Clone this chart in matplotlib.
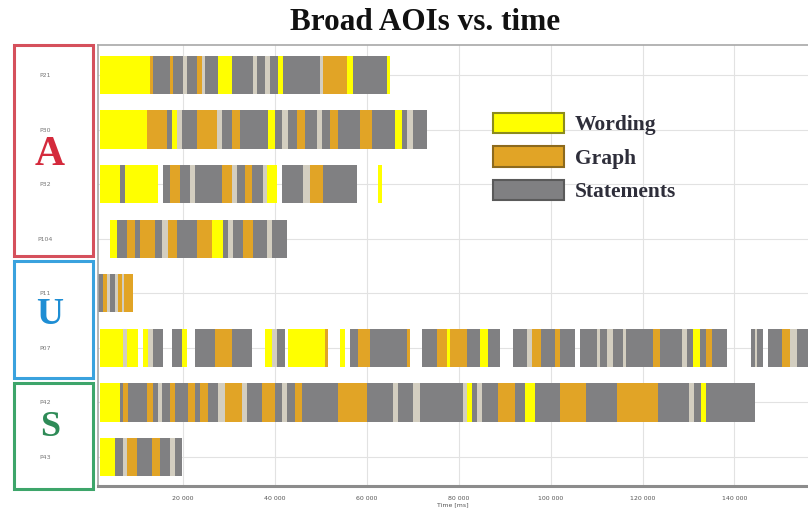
import matplotlib.pyplot as plt
from matplotlib.patches import Patch, Rectangle

participants = ["P21", "P30", "P32", "P104", "P11", "P07", "P42", "P43"]

# segment boundaries in ms, AOI code per segment
# W = Wording, G = Graph, S = Statements, o = short fixation outside AOIs, - = no data
p21_edges = [2000, 12800, 13500, 17200, 17800, 20000, 20900, 23000, 24100, 24800,
             27600, 30700, 35200, 36100, 37800, 38900, 40700, 41700, 49800, 50400,
             55700, 57000, 64400, 65000]
p21_aois = "WGSGSoSGoSWSoSoSWSoGWSW"

p30_edges = [2000, 12200, 16500, 17600, 18700, 19800, 23000, 27400, 28500, 30700,
             32400, 38500, 40000, 41500, 42800, 44800, 46500, 49100, 50200, 52000,
             53700, 58500, 61100, 66100, 67600, 68700, 70000, 73000]
p30_aois = "WGSWoSGoSGSWSoSGSoSGSGSWSoS"

p32_edges = [2000, 6300, 7400, 14600, 15700, 17200, 19300, 21500, 22600, 28500,
             30700, 31700, 33500, 35000, 37400, 38300, 40400, 41500, 46100, 47600,
             50400, 57800, 62400, 63300]
p32_aois = "WSW-SGSoSGoSGSoW-SoGS-W"

p104_edges = [4100, 5700, 7800, 9600, 10700, 13900, 15400, 16700, 18700, 23000,
              26300, 28700, 29800, 30900, 33000, 35200, 38300, 39300, 42600]
p104_aois = "WSGSGSoGSGWSoSGSoS"

p11_edges = [1500, 2600, 3500, 4100, 5200, 5900, 6700, 7200, 9100]
p11_aois = "SGoSoGoG"

p07_edges = [2000, 7000, 7800, 10200, 11300, 12400, 13500, 15700, 17600, 19800,
             20900, 22600, 27000, 30700, 35000, 37800, 39300, 40400, 42200, 42800,
             50900, 51500, 54100, 55200, 56300, 58000, 60700, 68700, 69300, 72000,
             75200, 77400, 78000, 81700, 84600, 86300, 88900, 91700, 94800, 95900,
             98000, 100900, 102000, 105200, 106300, 110000, 110700, 112200, 113500, 115700,
             116500, 122200, 123700, 128500, 129600, 130900, 132400, 133900, 135200, 138300,
             143700, 144400, 145000, 146100, 147200, 150400, 152000, 153500, 158000]
p07_aois = "WoW-WoS-SW-SGS-WoS-WG-W-SGSG-SGWGSWS-SoGSGS-SoSoSoSGSoSWSGS-SoS-SGoS"

p42_edges = [2000, 6300, 7000, 8000, 12200, 13500, 14600, 15400, 17200, 18300,
             21100, 22600, 23700, 25400, 27600, 29100, 32800, 33900, 37200, 40000,
             41500, 42600, 44300, 45900, 53700, 60000, 65700, 66700, 70000, 71500,
             80900, 81700, 82800, 83900, 85000, 88500, 92200, 94400, 96500, 102000,
             107800, 114400, 123300, 130200, 131300, 132800, 133900, 144400]
p42_aois = "WSGSGSoSGSGSGSoGoSGSoSGSGSoSoSoWSoSGSWSGSGSoSWS"

p43_edges = [2000, 5200, 7000, 7800, 10000, 13300, 15000, 17200, 18300, 19800]
p43_aois = "WSoGSGSoS"

rows = [(p21_edges, p21_aois), (p30_edges, p30_aois), (p32_edges, p32_aois),
        (p104_edges, p104_aois), (p11_edges, p11_aois), (p07_edges, p07_aois),
        (p42_edges, p42_aois), (p43_edges, p43_aois)]

aoi_names = {"W": "Wording", "G": "Graph", "S": "Statements"}
aoi_colors = {"W": "#FFFF00", "G": "#E1A426", "S": "#808082", "o": "#D3CEC0"}
aoi_edges = {"W": "#8C8C1E", "G": "#8C6A1E", "S": "#5A5A5A"}

W, H = 808, 515
fig = plt.figure(figsize=(W / 100, H / 100), dpi=100)
ax = fig.add_axes([98 / W, 1 - 486 / H, 1 - 98 / W, (486 - 45) / H])

bar_h = 0.7
for i, (edges, aois) in enumerate(rows):
    assert len(edges) == len(aois) + 1, participants[i]
    for code in "WGSo":
        spans = [(edges[k], edges[k + 1] - edges[k]) for k, c in enumerate(aois) if c == code]
        if spans:
            ax.broken_barh(spans, (i - bar_h / 2, bar_h), facecolors=aoi_colors[code],
                           linewidth=0, zorder=2)

ax.set_xlim(1500, 156000)
ax.set_ylim(7.53, -0.55)
ax.set_xticks(range(20000, 160000, 20000))
ax.set_xticklabels([f"{v // 1000} 000" for v in range(20000, 160000, 20000)],
                   fontsize=4.5, color="#555555")
ax.set_yticks(range(len(participants)))
ax.set_yticklabels(participants, fontsize=4.5, color="#777777", ha="center")
ax.tick_params(axis="y", length=0, pad=38)
ax.tick_params(axis="x", length=0, pad=7)
ax.set_xlabel("Time [ms]", fontsize=4.5, color="#555555", labelpad=1)
ax.grid(True, color="#E2E2E2", linewidth=0.8, zorder=0)
ax.set_axisbelow(True)
for side in ["top", "left"]:
    ax.spines[side].set_color("#A8A8A8")
    ax.spines[side].set_linewidth(1.2)
ax.spines["bottom"].set_color("#8C8C8C")
ax.spines["bottom"].set_linewidth(2.2)
ax.spines["right"].set_visible(False)

handles = [Patch(facecolor=aoi_colors[c], edgecolor=aoi_edges[c], linewidth=1.5,
                 label=aoi_names[c]) for c in "WGS"]
ax.legend(handles=handles, loc="upper left", bbox_to_anchor=(482 / W, 1 - 102 / H),
          bbox_transform=fig.transFigure, frameon=False, borderpad=0,
          handlelength=3.3, handleheight=1.1, handletextpad=0.5, labelspacing=0.5,
          prop={"family": "Liberation Serif", "weight": "bold", "size": 15.5},
          labelcolor="#2E2E3A")

fig.text(425 / W, 1 - 23 / H, "Broad AOIs vs. time", ha="center", va="center",
         fontsize=22.5, fontweight="bold", family="Liberation Serif", color="#111111")

# group boxes with letters
groups = [("A", 45, 256, "#D5505C", "#D42A3C", 30, 155),
          ("U", 261, 378, "#3AA2DE", "#1E8ED4", 27, 315),
          ("S", 383, 489, "#3DA56A", "#2E8B57", 26, 428)]
for letter, y0, y1, ec, tc, size, ty in groups:
    fig.add_artist(Rectangle((14 / W, 1 - y1 / H), (93 - 14) / W, (y1 - y0) / H,
                             transform=fig.transFigure, fill=False, edgecolor=ec,
                             linewidth=2.2))
    fig.text(50 / W, 1 - ty / H, letter, ha="center", va="center", fontsize=size,
             fontweight="bold", family="Liberation Serif", color=tc)

fig.savefig("out.png", dpi=100)
